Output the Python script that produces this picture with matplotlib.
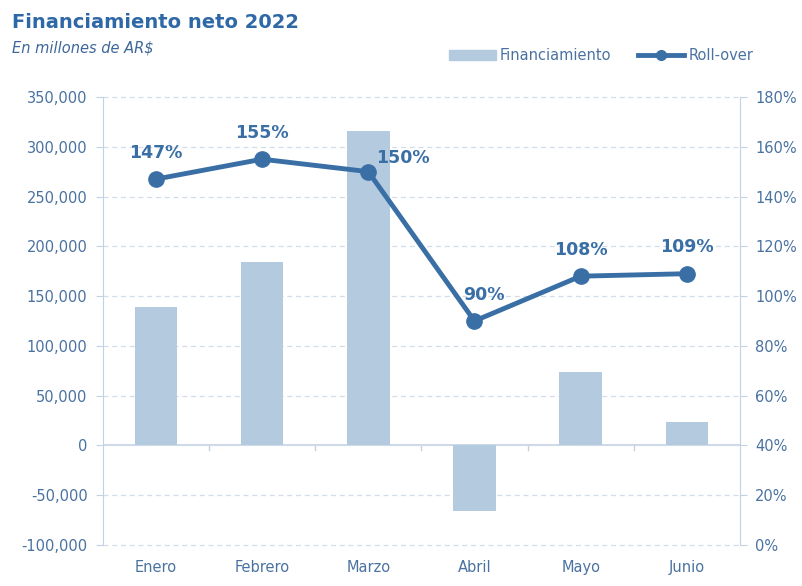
import matplotlib.pyplot as plt
from matplotlib.lines import Line2D
from matplotlib.patches import Patch
from matplotlib.ticker import FuncFormatter

meses = ['Enero', 'Febrero', 'Marzo', 'Abril', 'Mayo', 'Junio']
financiamiento = [139000, 184000, 316000, -66000, 74000, 24000]
rollover = [147, 155, 150, 90, 108, 109]

color_barra = '#b4cadf'
color_linea = '#3a6fa6'
color_texto = '#4a72a0'
color_eje = '#c3d2e3'

fig = plt.figure(figsize=(8.03, 5.86), dpi=100)
ax = fig.add_axes([0.128, 0.070, 0.7935, 0.7645])
x = list(range(len(meses)))

ax.bar(x, financiamiento, width=0.4, color=color_barra, zorder=2)
ax.set_xlim(-0.5, len(meses) - 0.5)
ax.set_ylim(-100000, 350000)
ax.set_yticks(range(-100000, 350001, 50000))
ax.yaxis.set_major_formatter(FuncFormatter(lambda v, p: f'{int(v):,}'))
ax.grid(axis='y', linestyle=(0, (4, 3)), color='#d3dcea', linewidth=0.9, zorder=0)
for gl in ax.get_ygridlines():
    gl.set_clip_on(False)
ax.axhline(0, color=color_eje, linewidth=1.2, zorder=1)

# ticks pequeños bajo la línea de cero entre categorías
for b in [i + 0.5 for i in x[:-1]]:
    ax.plot([b, b], [0, -5000], color=color_eje, linewidth=1, zorder=1)

ax.set_xticks(x)
ax.set_xticklabels(meses)
ax.tick_params(axis='x', length=0, pad=11, labelsize=10.5, labelcolor=color_texto)
ax.tick_params(axis='y', length=5, color=color_eje, labelsize=10.5, labelcolor=color_texto, pad=6)
for s in ['top', 'bottom']:
    ax.spines[s].set_visible(False)
ax.spines['left'].set_color(color_eje)
ax.spines['right'].set_visible(False)

ax2 = ax.twinx()
ax2.plot(x, rollover, color=color_linea, linewidth=3.5, marker='o', markersize=11, zorder=3)
ax2.set_ylim(0, 180)
ax2.set_yticks(range(0, 181, 20))
ax2.yaxis.set_major_formatter(FuncFormatter(lambda v, p: f'{int(v)}%'))
ax2.tick_params(axis='y', length=5, color=color_eje, labelsize=10.5, labelcolor=color_texto, pad=6)
for s in ['top', 'bottom', 'left']:
    ax2.spines[s].set_visible(False)
ax2.spines['right'].set_color(color_eje)

offsets = {'Marzo': (25, 10), 'Abril': (7, 19)}
for i, v in enumerate(rollover):
    dx, dy = offsets.get(meses[i], (0, 19))
    ax2.annotate(f'{v}%', (i, v), xytext=(dx, dy), textcoords='offset points',
                 ha='center', va='center', fontsize=12.5, fontweight='bold', color=color_linea)

fig.text(0.015, 0.962, 'Financiamiento neto 2022', fontsize=14, fontweight='bold',
         color='#2f68a6', va='center')
fig.text(0.015, 0.918, 'En millones de AR$', fontsize=10.5, style='italic',
         color='#3d6799', va='center')

handles = [Patch(color=color_barra),
           Line2D([0], [0], color=color_linea, linewidth=3.5, marker='o', markersize=7)]
fig.legend(handles, ['Financiamiento', 'Roll-over'], loc='center right',
           bbox_to_anchor=(0.955, 0.905), ncol=2, frameon=False, fontsize=10.5,
           labelcolor=color_texto, handlelength=3.2, handletextpad=0.3, columnspacing=1.8)

fig.savefig('out.png', dpi=100)
